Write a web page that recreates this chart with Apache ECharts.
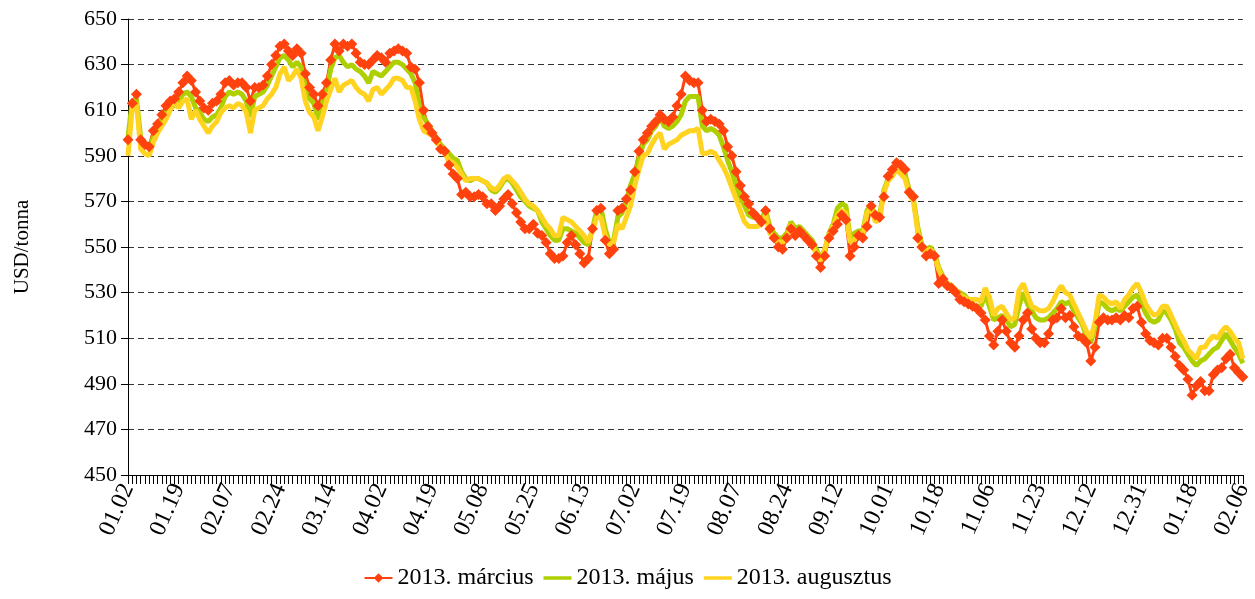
<!DOCTYPE html>
<html>
<head>
<meta charset="utf-8">
<script src="https://cdn.jsdelivr.net/npm/echarts@6/dist/echarts.min.js"></script>
<style>
  html, body { margin: 0; padding: 0; background: #fff; }
  #chart { width: 1255px; height: 599px; }
</style>
</head>
<body>
<div id="chart"></div>
<script>
// tick labels, one every 12 trading days
const dateLabels = ['01.02', '01.19', '02.07', '02.24', '03.14', '04.02', '04.19', '05.08', '05.25', '06.13', '07.02', '07.19',
  '08.07', '08.24', '09.12', '10.01', '10.18', '11.06', '11.23', '12.12', '12.31', '01.18', '02.06'];

// 2013. március
const marcius = [597, 613, 617, 597, 595, 594, 601, 604, 608, 612,
  614, 615, 618, 622, 625, 623, 618, 614, 611, 610,
  613, 614, 617, 622, 623, 621, 622, 622, 620, 614,
  620, 620, 621, 625, 630, 634, 638, 639, 636, 634,
  637, 635, 626, 620, 617, 612, 617, 622, 632, 639,
  636, 639, 638, 639, 635, 631, 630, 630, 632, 634,
  633, 631, 635, 636, 637, 636, 635, 629, 628, 622,
  610, 603, 600, 597, 593, 592, 586, 582, 580, 573,
  574, 572, 572, 573, 572, 569, 569, 566, 568, 571,
  573, 569, 565, 561, 558, 558, 560, 556, 555, 552,
  547, 545, 545, 546, 552, 555, 551, 547, 543, 545,
  558, 566, 567, 553, 547, 549, 566, 567, 571, 575,
  583, 592, 597, 600, 603, 605, 608, 606, 605, 607,
  612, 617, 625, 623, 622, 622, 610, 605, 606, 605,
  604, 601, 594, 590, 583, 577, 572, 569, 565, 563,
  561, 566, 558, 554, 550, 549, 554, 558, 555, 557,
  555, 553, 551, 546, 541, 546, 554, 557, 560, 564,
  562, 546, 550, 555, 554, 559, 568, 564, 563, 572,
  581, 584, 587, 586, 584, 574, 572, 554, 550, 546,
  547, 546, 534, 536, 533, 532, 530, 527, 526, 525,
  524, 523, 521, 518, 511, 507, 513, 518, 513, 508,
  506, 511, 518, 521, 514, 510, 508, 508, 512, 518,
  519, 523, 519, 520, 515, 511, 510, 508, 500, 506,
  517, 519, 518, 518, 519, 518, 520, 519, 523, 524,
  517, 512, 509, 508, 507, 510, 510, 506, 502, 498,
  496, 492, 485, 489, 491, 487, 487, 494, 496, 497,
  501, 503, 497, 495, 493];

// 2013. május
const majus = [598, 614, 615, 598, 595, 594, 598, 602, 606, 609,
  611, 612, 614, 617, 618, 616, 611, 609, 606, 605,
  607, 608, 611, 616, 618, 617, 618, 617, 614, 607,
  616, 617, 618, 621, 625, 629, 633, 634, 632, 629,
  631, 629, 620, 615, 613, 606, 613, 618, 628, 633,
  634, 631, 629, 630, 628, 627, 625, 622, 627, 626,
  625, 627, 629, 631, 631, 630, 628, 626, 622, 612,
  607, 604, 601, 598, 595, 593, 591, 589, 588, 583,
  580, 579, 580, 580, 579, 578, 575, 574, 576, 579,
  580, 578, 575, 572, 570, 568, 567, 566, 561, 558,
  555, 553, 553, 558, 558, 557, 556, 554, 552, 551,
  558, 566, 567, 558, 552, 553, 563, 565, 570, 577,
  582, 589, 595, 597, 601, 603, 607, 603, 602, 603,
  605, 608, 614, 616, 616, 616, 603, 601, 602, 601,
  599, 594, 588, 583, 577, 572, 568, 564, 563, 563,
  562, 566, 559, 556, 554, 554, 556, 561, 558, 559,
  557, 555, 553, 549, 545, 549, 556, 560, 567, 569,
  568, 554, 556, 557, 557, 566, 568, 563, 564, 575,
  580, 582, 585, 584, 582, 575, 571, 559, 551, 549,
  550, 547, 541, 537, 534, 533, 531, 530, 529, 527,
  525, 524, 524, 529, 524, 518, 519, 520, 518, 515,
  516, 524, 530, 525, 522, 519, 518, 518, 519, 521,
  523, 526, 525, 526, 522, 519, 516, 511, 508, 515,
  526, 525, 523, 522, 523, 522, 524, 526, 528, 529,
  525, 521, 518, 517, 518, 522, 521, 518, 514, 508,
  506, 503, 500, 498, 500, 501, 503, 505, 506, 509,
  512, 509, 506, 503, 499];

// 2013. augusztus
const augusztus = [590, 611, 613, 593, 591, 590, 596, 600, 603, 606,
  610, 614, 611, 614, 615, 606, 610, 606, 603, 600,
  603, 605, 609, 611, 612, 611, 613, 612, 609, 600,
  610, 611, 612, 615, 617, 620, 626, 629, 623, 625,
  628, 624, 614, 609, 607, 601, 607, 614, 619, 624,
  618, 621, 622, 623, 620, 618, 617, 614, 619, 620,
  617, 619, 621, 624, 624, 623, 620, 620, 614, 606,
  601, 600, 599, 596, 594, 591, 588, 587, 585, 582,
  579, 580, 580, 580, 579, 578, 576, 575, 577, 580,
  581, 579, 577, 574, 571, 569, 568, 566, 563, 560,
  558, 555, 555, 563, 562, 561, 559, 557, 555, 552,
  557, 563, 563, 555, 551, 552, 560, 558, 563, 568,
  577, 584, 590, 591, 595, 598, 600, 593, 595, 596,
  597, 599, 600, 601, 601, 602, 591, 591, 592, 591,
  588, 585, 581, 576, 571, 566, 561, 559, 559, 559,
  560, 564, 556, 554, 552, 552, 554, 560, 556, 557,
  555, 553, 551, 547, 544, 549, 555, 559, 564, 566,
  565, 552, 553, 556, 555, 565, 567, 561, 562, 574,
  579, 581, 584, 582, 580, 573, 570, 557, 549, 548,
  549, 546, 540, 536, 534, 533, 531, 529, 528, 527,
  527, 527, 526, 532, 528, 520, 523, 524, 521, 518,
  519, 531, 534, 529, 524, 523, 522, 522, 523, 526,
  530, 533, 530, 529, 525, 521, 517, 513, 510, 517,
  529, 528, 526, 525, 526, 523, 527, 529, 532, 534,
  530, 525, 522, 520, 521, 524, 524, 520, 516, 512,
  509, 505, 503, 501, 506, 506, 509, 511, 510, 513,
  515, 513, 510, 508, 501];

const labelStep = 12;
const days = marcius.map((v, i) => String(i));

const font = 'Liberation Serif';
// plain bar used as legend icon for the lines without markers
const lineIcon = 'path://M0,0L40,0L40,5L0,5Z';

const chart = echarts.init(document.getElementById('chart'));
chart.setOption({
  animation: false,
  color: ['#FF420E', '#AECF00', '#FFD320'],
  grid: { left: 128, right: 12, top: 19, bottom: 124 },
  legend: {
    bottom: 4,
    left: 'center',
    itemWidth: 28,
    itemHeight: 12,
    itemGap: 10,
    textStyle: { fontFamily: font, fontSize: 24, color: '#000' },
    data: [
      { name: '2013. március' },
      { name: '2013. május', icon: lineIcon },
      { name: '2013. augusztus', icon: lineIcon }
    ]
  },
  xAxis: {
    type: 'category',
    data: days,
    boundaryGap: false,
    axisLine: { lineStyle: { color: '#000', width: 1 } },
    axisTick: { interval: 0, length: 9, lineStyle: { color: '#000' } },
    axisLabel: {
      interval: labelStep - 1,
      rotate: 66,
      margin: 10,
      fontFamily: font,
      fontSize: 24,
      color: '#000',
      formatter: (v, i) => dateLabels[Math.round(i / labelStep)]
    },
    splitLine: { show: false }
  },
  yAxis: {
    type: 'value',
    min: 450,
    max: 650,
    interval: 20,
    name: 'USD/tonna',
    nameLocation: 'middle',
    nameGap: 95,
    nameTextStyle: { fontFamily: font, fontSize: 21, color: '#000' },
    axisLine: { show: true, lineStyle: { color: '#000' } },
    axisTick: { show: true, length: 7, lineStyle: { color: '#000' } },
    axisLabel: { margin: 11, fontFamily: font, fontSize: 22, color: '#000' },
    splitLine: { lineStyle: { color: '#333', type: [6, 4], width: 1 } }
  },
  series: [
    {
      name: '2013. március',
      type: 'line',
      data: marcius,
      symbol: 'diamond',
      symbolSize: 11,
      showAllSymbol: true,
      lineStyle: { width: 3 },
      itemStyle: { color: '#FF420E' }
    },
    {
      name: '2013. május',
      type: 'line',
      data: majus,
      symbol: 'none',
      lineStyle: { width: 5 },
      itemStyle: { color: '#AECF00' }
    },
    {
      name: '2013. augusztus',
      type: 'line',
      data: augusztus,
      symbol: 'none',
      lineStyle: { width: 5 },
      itemStyle: { color: '#FFD320' }
    }
  ]
});
</script>
</body>
</html>
